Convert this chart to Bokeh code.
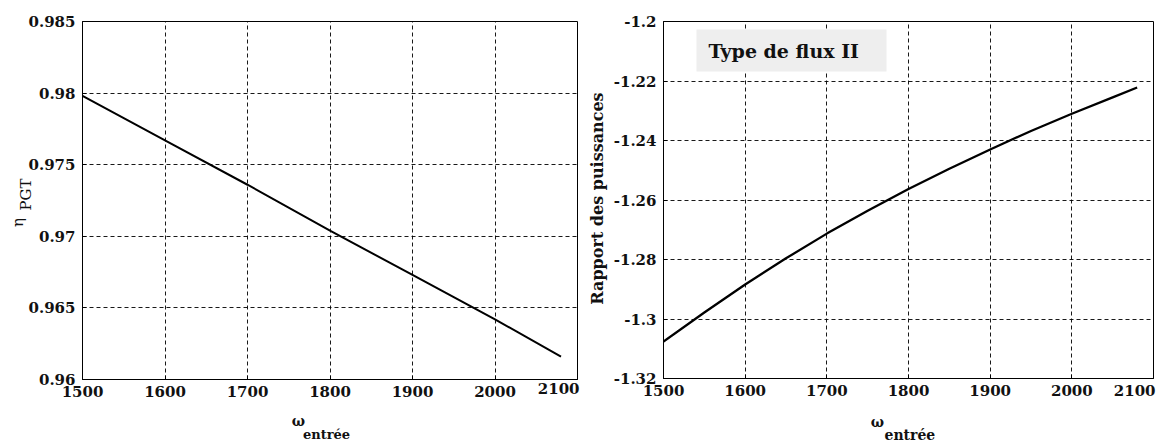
from math import pi
from bokeh.plotting import figure
from bokeh.layouts import column
from bokeh.models import (Label, FixedTicker, Range1d, BoxAnnotation, GridBox)
from bokeh.embed import file_html
from bokeh.resources import INLINE

# ---------------- data ----------------
omega_left = [1500, 1600, 1700, 1800, 1900, 2000, 2080]
eta_pgt = [0.9798, 0.9767, 0.9736, 0.9704, 0.9673, 0.9642, 0.9616]

omega_right = [1500, 1550, 1600, 1650, 1700, 1750, 1800, 1850, 1900, 1950, 2000, 2050, 2080]
rapport = [-1.3076, -1.2978, -1.2884, -1.2796, -1.2713, -1.2636, -1.2563,
           -1.2495, -1.2430, -1.2368, -1.2310, -1.2255, -1.2222]

x_ticks = [1500, 1600, 1700, 1800, 1900, 2000, 2100]
x_tick_labels = ["1500", "1600", "1700", "1800", "1900", "2000", "2100"]
left_y_ticks = [0.96, 0.965, 0.97, 0.975, 0.98, 0.985]
left_y_tick_labels = ["0.96", "0.965", "0.97", "0.975", "0.98", "0.985"]
right_y_ticks = [-1.32, -1.3, -1.28, -1.26, -1.24, -1.22, -1.2]
right_y_tick_labels = ["-1.32", "-1.3", "-1.28", "-1.26", "-1.24", "-1.22", "-1.2"]

FONT = "DejaVu Serif"
INK = "#111111"


def make_fig(fw, fh, mb_left, mb_right, mb_top, mb_bottom, yticks, ylabels):
    p = figure(frame_width=fw, frame_height=fh,
               x_range=Range1d(x_ticks[0], x_ticks[-1]),
               y_range=Range1d(yticks[0], yticks[-1]),
               output_backend="svg", toolbar_location=None,
               min_border_left=mb_left, min_border_right=mb_right,
               min_border_top=mb_top, min_border_bottom=mb_bottom,
               background_fill_color="white", border_fill_color="white")
    p.outline_line_color = "black"
    p.outline_line_width = 1
    p.xaxis.ticker = FixedTicker(ticks=x_ticks)
    p.yaxis.ticker = FixedTicker(ticks=yticks)
    xo = {t: l for t, l in zip(x_ticks, x_tick_labels)}
    xo[x_ticks[-1]] = ""   # drawn separately, right-aligned at the frame edge
    p.xaxis.major_label_overrides = xo
    p.yaxis.major_label_overrides = {t: l for t, l in zip(yticks, ylabels)}
    for ax in (p.xaxis[0], p.yaxis[0]):
        ax.major_tick_in = 4
        ax.major_tick_out = 0
        ax.minor_tick_line_color = None
        ax.axis_line_color = "black"
        ax.major_tick_line_color = "black"
        ax.major_label_text_font = FONT
        ax.major_label_text_font_size = "15px"
        ax.major_label_text_font_style = "bold"
        ax.major_label_text_color = INK
    p.xaxis.major_label_standoff = 6
    p.yaxis.major_label_standoff = 7
    for g in (p.xgrid[0], p.ygrid[0]):
        g.grid_line_color = "black"
        g.grid_line_dash = "4 3"
        g.grid_line_width = 1
        g.grid_line_alpha = 0.9
    return p


# ---------------- left plot ----------------
p1 = make_fig(495, 358, 82, 11, 18, 65, left_y_ticks, left_y_tick_labels)
p1.line(omega_left, eta_pgt, line_color="black", line_width=2)

# ---------------- right plot ----------------
p2 = make_fig(490, 357, 75, 9, 21, 63, right_y_ticks, right_y_tick_labels)
p2.line(omega_right, rapport, line_color="black", line_width=2.3)
p2.add_layout(BoxAnnotation(left=33, right=223, top=349, bottom=307,
                            left_units="screen", right_units="screen",
                            top_units="screen", bottom_units="screen",
                            fill_color="#eeeeee", fill_alpha=1.0, line_color=None,
                            level="overlay"))
p2.add_layout(Label(x=45, y=328, x_units="screen", y_units="screen",
                    text="Type de flux II", text_align="left", text_baseline="middle",
                    text_font=FONT, text_font_size="19px", text_font_style="bold",
                    text_color=INK, level="overlay"))

# ---------------- transparent overlay for the texts outside the frames ----------------
ov = figure(width=1162, height=441, x_range=Range1d(0, 1162), y_range=Range1d(441, 0),
            x_axis_type=None, y_axis_type=None, output_backend="svg",
            toolbar_location=None, min_border=0,
            background_fill_color=None, border_fill_color=None)
ov.outline_line_color = None
ov.grid.visible = False


def txt(x, y, text, size, style="normal", align="center", baseline="middle", angle=0.0):
    ov.add_layout(Label(x=x, y=y, text=text, angle=angle, text_align=align,
                        text_baseline=baseline, text_font=FONT, text_font_size=size,
                        text_font_style=style, text_color=INK))


# y-axis titles
txt(17, 222, "η", "15px", angle=pi / 2)
txt(25, 194, "PGT", "15px", angle=pi / 2)
txt(597, 198, "Rapport des puissances", "16px", style="bold", angle=pi / 2)
# x-axis titles
txt(298, 420, "ω", "14px", style="bold")
txt(296, 434, "_entrée", "13px", style="bold", align="left")
txt(877, 421, "ω", "14px", style="bold")
txt(884, 434, "entrée", "14px", style="bold", align="left")
# last x tick label of each plot, kept inside the frame's right edge
txt(579, 382, x_tick_labels[-1], "15px", style="bold", align="right", baseline="top")
txt(1155, 384, x_tick_labels[-1], "15px", style="bold", align="right", baseline="top")

layout = GridBox(children=[(p1, 0, 0), (p2, 0, 1), (column(ov), 0, 0, 1, 2)])
open("out.html", "w").write(file_html(layout, INLINE))
